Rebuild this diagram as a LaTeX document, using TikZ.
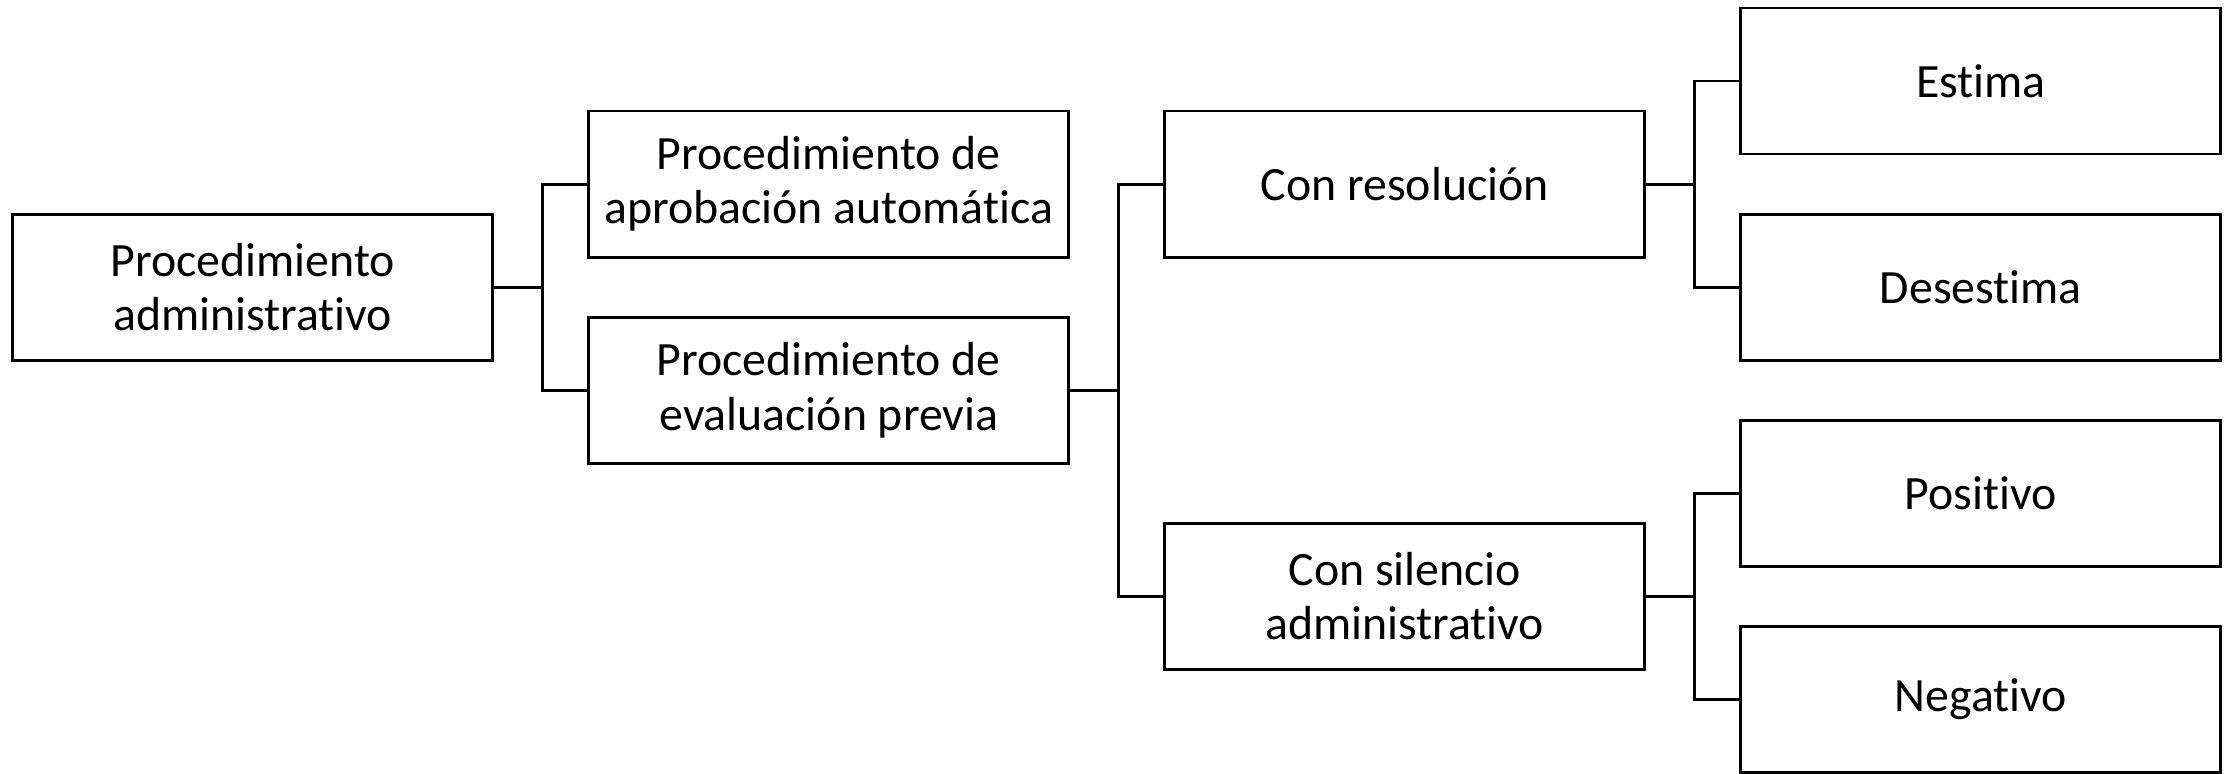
\documentclass[tikz,border=0pt]{standalone}
\usepackage{fontspec}
\setmainfont{Carlito}[Ligatures=NoCommon]
\usepackage{tikz}
\usetikzlibrary{positioning, calc}

\begin{document}
\begin{tikzpicture}[caja/.style={draw, line width=0.8pt, minimum width=4.8cm, minimum height=1.46cm, inner sep=0pt, align=center, font=\fontsize{13.6}{15.4}\selectfont}, rama/.style={line width=0.8pt}]
\useasboundingbox (0,0) rectangle (22.33,-7.74);
\node[caja] (proc) at (2.528,-2.872) {Procedimiento\\administrativo};
\node[caja] (aprob) at (8.288,-1.841) {Procedimiento de\\aprobación automática};
\node[caja] (eval) at (8.288,-3.903) {Procedimiento de\\evaluación previa};
\node[caja] (resol) at (14.048,-1.841) {Con resolución};
\node[caja] (silen) at (14.048,-5.965) {Con silencio\\administrativo};
\node[caja] (estima) at (19.808,-0.810) {Estima};
\node[caja] (desest) at (19.808,-2.872) {Desestima};
\node[caja] (posit) at (19.808,-4.934) {Positivo};
\node[caja] (negat) at (19.808,-6.996) {Negativo};
% ramas
\draw[rama] (proc.east) -- ++(0.48,0) |- (aprob.west);
\draw[rama] (proc.east) -- ++(0.48,0) |- (eval.west);
\draw[rama] (eval.east) -- ++(0.48,0) |- (resol.west);
\draw[rama] (eval.east) -- ++(0.48,0) |- (silen.west);
\draw[rama] (resol.east) -- ++(0.48,0) |- (estima.west);
\draw[rama] (resol.east) -- ++(0.48,0) |- (desest.west);
\draw[rama] (silen.east) -- ++(0.48,0) |- (posit.west);
\draw[rama] (silen.east) -- ++(0.48,0) |- (negat.west);
\end{tikzpicture}
\end{document}
